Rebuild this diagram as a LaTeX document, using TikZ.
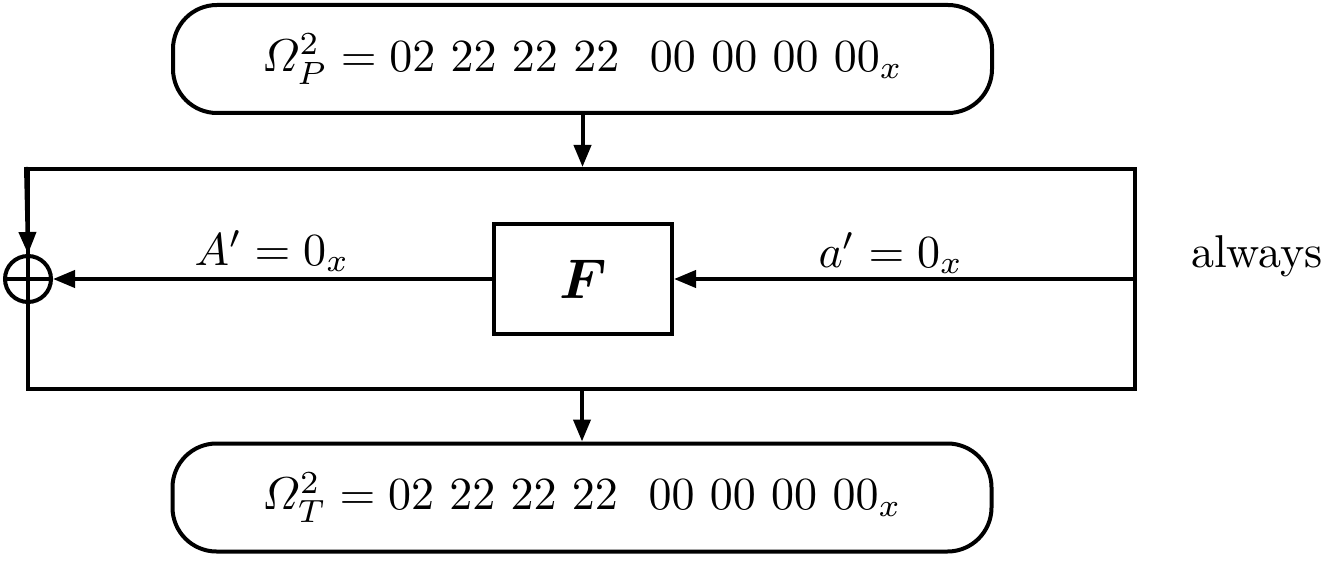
\documentclass[tikz,border=0pt]{standalone}
\usepackage{amsmath,bm}
\usepackage{graphicx}
\usetikzlibrary{arrows.meta}
\newcommand{\bigtxt}[1]{\scalebox{2.3}{#1}}
\begin{document}
\begin{tikzpicture}[x=0.5pt,y=-0.5pt,
  ln/.style={line width=2pt},
  arr/.style={ln,-{Triangle[length=11pt,width=8.5pt]}},
  capsule/.style={draw,ln,rounded corners=22pt,minimum width=409.5pt,minimum height=54pt,inner sep=0pt},
  framebox/.style={draw,ln,minimum width=553.5pt,minimum height=110pt,inner sep=0pt},
  fbox/.style={draw,ln,minimum width=89pt,minimum height=55pt,inner sep=0pt},
  xorc/.style={draw,ln,circle,minimum size=23pt,inner sep=0pt},
  lab/.style={anchor=base,inner sep=0pt}]
\useasboundingbox (0,0) rectangle (1325,561);
\node[capsule] (top) at (582.5,59) {\bigtxt{$\varOmega_P^2 = 02\ 22\ 22\ 22\ \ 00\ 00\ 00\ 00_x$}};
\node[capsule] (bot) at (582,497.5) {\bigtxt{$\varOmega_T^2 = 02\ 22\ 22\ 22\ \ 00\ 00\ 00\ 00_x$}};
\node[framebox] (frame) at (581.5,279) {};
\node[fbox] (F) at (583,279) {\scalebox{2.8}{$\bm{F}$}};
\node[xorc] (xor) at (28,279) {};
\draw[ln] (xor.north) -- (xor.south) (xor.west) -- (xor.east);
\node[lab] (Alab) at (272,265) {\bigtxt{$A' = 0_x$}};
\node[lab] (alab) at (891,267) {\bigtxt{$a' = 0_x$}};
\node[lab] (alw) at (1257,267) {\bigtxt{always}};
\draw[arr] (top.south) -- (top.south |- frame.north);
\draw[arr] (frame.south -| bot.north) -- (bot.north);
\draw[arr] (frame.north west) -- (xor.north);
\draw[arr] (frame.east) -- (F.east);
\draw[arr] (F.west) -- (xor.east);
\end{tikzpicture}
\end{document}
